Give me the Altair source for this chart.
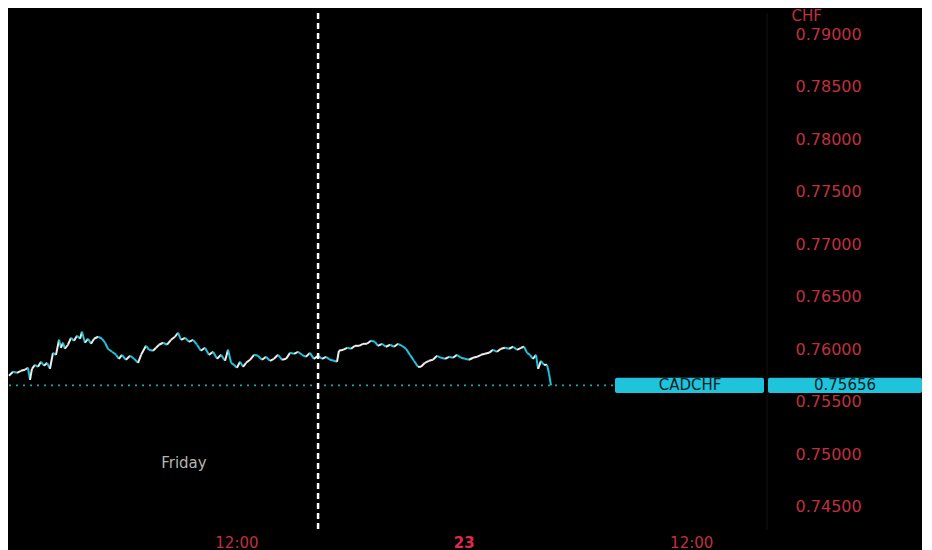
import altair as alt
import numpy as np
import pandas as pd

# time in hours from Friday 00:00, price in CHF
hours = [
    0.00, 0.21, 0.42, 0.63, 0.84, 1.00, 1.11, 1.21, 1.37, 1.53,
    1.69, 1.85, 2.01, 2.16, 2.32, 2.48, 2.64, 2.74, 2.85, 2.95,
    3.11, 3.27, 3.43, 3.59, 3.75, 3.85, 4.01, 4.17, 4.33, 4.49,
    4.70, 4.91, 5.07, 5.22, 5.44, 5.65, 5.80, 5.96, 6.17, 6.39,
    6.60, 6.81, 6.97, 7.23, 7.39, 7.60, 7.76, 7.92, 8.13, 8.34,
    8.55, 8.76, 8.92, 9.08, 9.29, 9.50, 9.71, 9.92, 10.13, 10.34,
    10.55, 10.77, 10.98, 11.19, 11.40, 11.56, 11.72, 11.87, 12.03, 12.19,
    12.35, 12.51, 12.72, 12.93, 13.14, 13.35, 13.56, 13.77, 13.98, 14.20,
    14.41, 14.62, 14.83, 15.04, 15.25, 15.46, 15.67, 15.88, 16.09, 16.31,
    16.52, 16.73, 16.94, 17.15, 17.31, 17.41, 17.63, 17.84, 18.05, 18.26,
    18.47, 18.68, 18.89, 19.10, 19.31, 19.47, 19.68, 19.89, 20.11, 20.32,
    20.53, 20.74, 20.95, 21.16, 21.37, 21.58, 21.74, 21.95, 22.16, 22.37,
    22.59, 22.80, 23.01, 23.22, 23.43, 23.64, 23.85, 24.06, 24.27, 24.49,
    24.70, 24.91, 25.12, 25.33, 25.54, 25.75, 25.96, 26.17, 26.39, 26.60,
    26.81, 27.02, 27.18, 27.34, 27.49, 27.65, 27.81, 27.92, 28.07, 28.23,
    28.39, 28.50, 28.60,
]
prices = [
    0.75748, 0.75786, 0.75776, 0.75795, 0.75805, 0.75824, 0.75709, 0.75814, 0.75852, 0.75833,
    0.75881, 0.75843, 0.75871, 0.75814, 0.75966, 0.75947, 0.76090, 0.76014, 0.76062, 0.76005,
    0.76043, 0.76109, 0.76081, 0.76128, 0.76100, 0.76166, 0.76062, 0.76100, 0.76052, 0.76100,
    0.76119, 0.76100, 0.76062, 0.76005, 0.75976, 0.75947, 0.75909, 0.75947, 0.75900, 0.75938,
    0.75909, 0.75871, 0.75947, 0.76033, 0.75995, 0.75986, 0.76014, 0.76043, 0.76062, 0.76043,
    0.76090, 0.76119, 0.76157, 0.76090, 0.76109, 0.76071, 0.76090, 0.76043, 0.75986, 0.76014,
    0.75947, 0.75976, 0.75909, 0.75947, 0.75890, 0.75995, 0.75871, 0.75852, 0.75824, 0.75881,
    0.75833, 0.75871, 0.75900, 0.75947, 0.75938, 0.75900, 0.75928, 0.75890, 0.75909, 0.75947,
    0.75900, 0.75909, 0.75966, 0.75957, 0.75976, 0.75947, 0.75928, 0.75966, 0.75909, 0.75938,
    0.75909, 0.75928, 0.75900, 0.75890, 0.75881, 0.75986, 0.75995, 0.76014, 0.76005, 0.76033,
    0.76033, 0.76052, 0.76052, 0.76081, 0.76071, 0.76033, 0.76052, 0.76024, 0.76043, 0.76024,
    0.76052, 0.76033, 0.76005, 0.75947, 0.75890, 0.75833, 0.75833, 0.75871, 0.75890, 0.75900,
    0.75938, 0.75919, 0.75909, 0.75928, 0.75919, 0.75947, 0.75919, 0.75909, 0.75900, 0.75919,
    0.75928, 0.75947, 0.75957, 0.75966, 0.75995, 0.75976, 0.76005, 0.76014, 0.76005, 0.76024,
    0.75995, 0.76014, 0.76024, 0.75966, 0.75947, 0.75909, 0.75947, 0.75814, 0.75890, 0.75852,
    0.75852, 0.75767, 0.75656,
]

y_ticks = [0.745, 0.750, 0.755, 0.760, 0.765, 0.770, 0.775, 0.780, 0.785, 0.790]
x_ticks = [12, 24, 36]
x_labels = ["12:00", "23", "12:00"]
symbol = "CADCHF"
currency = "CHF"
session_break = 16.31
day_note = ("Friday", 9.23, 0.7492)

CYAN = "#1fc4dc"
WHITE = "#ececec"
RED = "#c0303e"
W, H = 758, 517

df = pd.DataFrame({"h": hours, "p": prices})
df["h0"] = df["h"].shift(1)
df["p0"] = df["p"].shift(1)
df = df.dropna()
df["dir"] = np.where(df["p"] >= df["p0"], "up", "down")

last = pd.DataFrame({"p": [prices[-1]], "sym": [symbol], "val": [f"{prices[-1]:.5f}"]})

x_scale = alt.Scale(domain=[0, 40], nice=False, zero=False)
y_scale = alt.Scale(domain=[0.7428, 0.7920], nice=False, zero=False)

label_expr = " : ".join(
    f"datum.value == {v} ? '{t}'" for v, t in zip(x_ticks, x_labels)
) + " : ''"

price = alt.Chart(df).mark_rule(strokeWidth=2).encode(
    x=alt.X("h0:Q", scale=x_scale, axis=alt.Axis(
        values=x_ticks, labelExpr=label_expr, title=None,
        labelColor=alt.expr("datum.value == 24 ? '#e02a4c' : '" + RED + "'"),
        labelFontWeight=alt.expr("datum.value == 24 ? 'bold' : 'normal'"),
        labelFontSize=15, labelPadding=5, labelBaseline="top",
    )),
    x2="h:Q",
    y=alt.Y("p0:Q", scale=y_scale, axis=alt.Axis(
        orient="right", values=y_ticks, format=".5f", title=currency,
        labelColor=RED, labelFontSize=16, labelAlign="left", labelPadding=28,
        titleColor=RED, titleFontSize=15, titleFontWeight="normal", titleAngle=0,
        titleAlign="left", titleBaseline="middle", titleX=24, titleY=2,
    )),
    y2="p:Q",
    color=alt.Color("dir:N", scale=alt.Scale(domain=["up", "down"], range=[WHITE, CYAN]), legend=None),
)

separator = alt.Chart(last).mark_rule(color="#141414", strokeWidth=1).encode(
    x=alt.value(W), y=alt.value(0), y2=alt.value(H)
)

session = alt.Chart(last).mark_rule(color="white", strokeDash=[6, 4], strokeWidth=2.5).encode(
    x=alt.datum(session_break)
)

dotted = alt.Chart(last).mark_rule(color="#1fa89c", strokeDash=[2, 5], strokeWidth=1.8).encode(
    x=alt.value(0), x2=alt.value(606), y="p:Q"
)

boxes = alt.Chart(last).transform_calculate(
    top="datum.p + 0.00073", bot="datum.p - 0.00073"
)
box_sym = boxes.mark_rect(color=CYAN, cornerRadius=2).encode(
    x=alt.value(606), x2=alt.value(755), y="top:Q", y2="bot:Q"
)
box_val = boxes.mark_rect(color=CYAN, cornerRadius=2).encode(
    x=alt.value(759), x2=alt.value(913), y="top:Q", y2="bot:Q"
)
txt_sym = alt.Chart(last).mark_text(color="#0a1e26", fontSize=15).encode(
    x=alt.value(681), y="p:Q", text="sym:N"
)
txt_val = alt.Chart(last).mark_text(color="#0a1e26", fontSize=15).encode(
    x=alt.value(836), y="p:Q", text="val:N"
)

note = alt.Chart(last).mark_text(color="#b4b4b4", fontSize=15).encode(
    x=alt.datum(day_note[1]), y=alt.datum(day_note[2]), text=alt.value(day_note[0])
)

chart = alt.layer(
    price, separator, dotted, session, note, box_sym, box_val, txt_sym, txt_val
).properties(
    width=W, height=H, background="black",
    padding={"left": 0, "top": 0, "right": 0, "bottom": 0},
).configure(
    font="DejaVu Sans"
).configure_view(
    stroke=None
).configure_axis(
    grid=False, domain=False, ticks=False, tickSize=0
)

chart.save("out.html", embed_options={"renderer": "svg", "actions": False})
